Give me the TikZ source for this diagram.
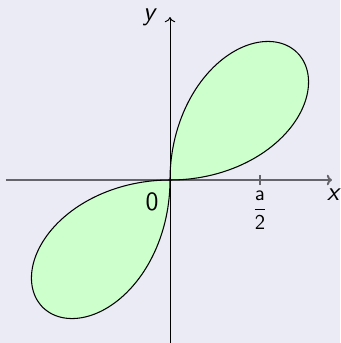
\documentclass[tikz,border=0pt]{standalone}
\usetikzlibrary{arrows.meta}
\definecolor{bglav}{RGB}{235,235,245}
\definecolor{petalgreen}{RGB}{204,255,204}
\definecolor{axisgray}{RGB}{100,100,106}

\begin{document}
\begin{tikzpicture}[x=1cm,y=1cm,>={To[length=3pt,width=6pt]},
  axislabel/.style={font=\sffamily\itshape\fontsize{15}{16}\selectfont},
  ticklabel/.style={font=\sffamily\fontsize{15}{16}\selectfont}]
  \fill[bglav] (-3.4,-3.26) rectangle (3.4,3.6);
  \useasboundingbox (-3.4,-3.26) rectangle (3.4,3.6);
  % the two petals r = a sin(2t), a = 3.6
  \fill[petalgreen] plot[domain=0:90,samples=120] ({3.6*sin(2*\x)*cos(\x)},{3.6*sin(2*\x)*sin(\x)}) -- cycle;
  \fill[petalgreen] plot[domain=180:270,samples=120] ({3.6*sin(2*\x)*cos(\x)},{3.6*sin(2*\x)*sin(\x)}) -- cycle;
  % axes
  \coordinate (xl) at (-3.28,0);
  \coordinate (xr) at (3.24,0);
  \coordinate (yb) at (0,-3.3);
  \coordinate (yt) at (0,3.26);
  \draw[->,axisgray,line width=1.1pt] (xl) -- (xr);
  \draw[->,black,line width=0.55pt] (yb) -- (yt);
  \draw[axisgray,line width=0.6pt] (1.8,-0.1) -- (1.8,0.1);
  \draw[line width=0.6pt] plot[domain=0:90,samples=120] ({3.6*sin(2*\x)*cos(\x)},{3.6*sin(2*\x)*sin(\x)});
  \draw[line width=0.6pt] plot[domain=180:270,samples=120] ({3.6*sin(2*\x)*cos(\x)},{3.6*sin(2*\x)*sin(\x)});
  % labels
  \node[axislabel] (xlab) at (3.26,-0.3) {x};
  \node[axislabel] (ylab) at (-0.42,3.26) {y};
  \node[ticklabel] (zero) at (-0.36,-0.44) {0};
  \node[font=\fontsize{13}{14}\selectfont] (halfa) at (1.8,-0.6) {$\displaystyle\frac{\mathsf{a}}{\mathsf{2}}$};
\end{tikzpicture}
\end{document}
